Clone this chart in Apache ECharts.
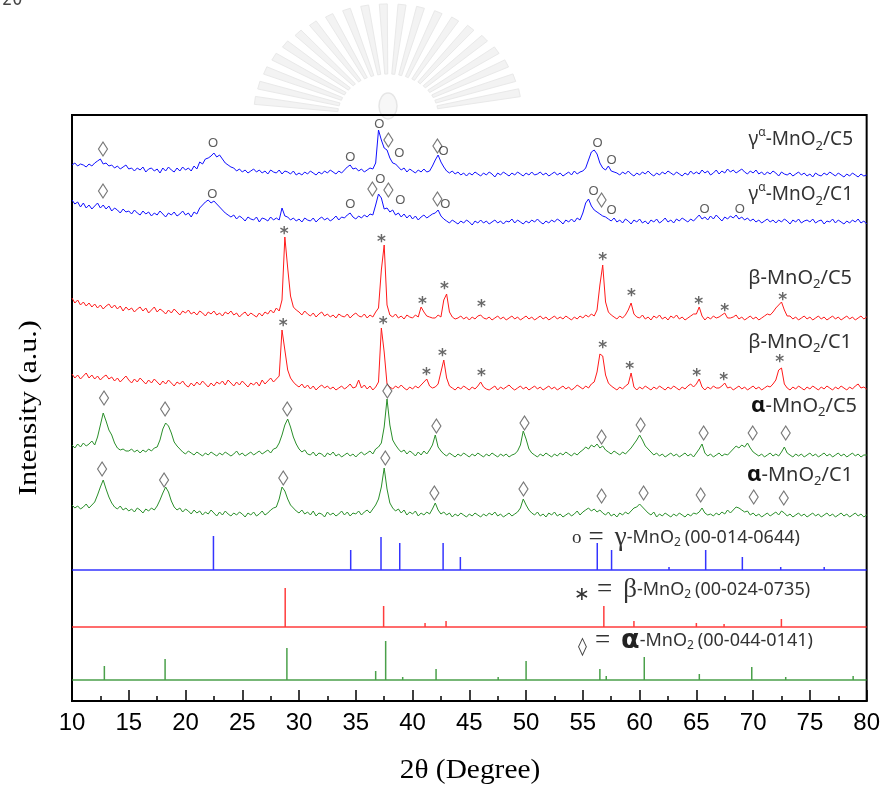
<!DOCTYPE html>
<html>
<head>
<meta charset="utf-8">
<script src="https://cdn.jsdelivr.net/npm/echarts/dist/echarts.min.js"></script>
<style>
  html, body { margin: 0; padding: 0; background: #fff; }
  #chart { width: 883px; height: 787px; }
</style>
</head>
<body>
<div id="chart"></div>
<script>
// ---------------- DATA ----------------
// 2θ grid of the measured patterns: 10° .. 80° every 0.25°
const twoThetaStart = 10;
const twoThetaStep = 0.25;

// Measured XRD intensities (a.u., relative to each pattern's own baseline)
const gammaC5 = [
 15,17,14,16, 15,13,16,14, 17,19,21,16, 17,14,15,12, 14,11,13,15,
 11,12,9,12, 10,13,8,11, 12,9,11,7, 12,9,13,10, 8,12,9,13,
 10,12,9,14, 11,18,16,21, 22,24,27,23, 25,21,17,15, 13,12,9,11,
 8,10,7,9, 11,8,10,7, 9,6,10,8, 7,10,6,9, 8,6,9,5,
 7,5,8,6, 9,7,5,8, 6,9,7,10, 8,6,9,7, 10,13,15,11,
 12,9,11,8, 10,12,11,17, 50,40,32,30, 22,17,16,13, 10,12,8,11,
 9,7,10,8, 11,8,9,14, 20,25,18,13, 9,7,9,6, 8,5,7,4,
 7,5,8,6, 4,7,5,8, 6,3,7,5, 8,6,4,7, 5,8,6,4,
 7,5,8,5, 6,8,5,7, 4,6,8,5, 7,4,6,8, 5,9,6,8,
 9,12,20,28, 30,26,17,12, 10,14,9,8, 7,5,8,6, 9,6,4,7,
 5,8,6,9, 6,4,7,5, 8,6,9,7, 5,8,6,4, 7,5,9,6,
 8,6,10,7, 9,5,7,10, 6,9,7,11, 8,10,7,9, 11,8,6,9,
 7,10,6,8, 5,8,6,9, 7,4,8,6, 5,7,4,6, 8,5,7,4,
 6,3,7,5, 4,7,5,8, 6,4,7,5, 3,6,4,7, 5,3,6,4,
 5
];
const gammaC1 = [
 25,21,23,18, 22,17,20,16, 19,22,17,20, 16,19,14,17, 15,12,16,13,
 14,11,15,12, 10,14,11,13, 9,12,10,14, 11,8,12,10, 13,9,11,14,
 10,12,8,13, 11,17,20,23, 25,22,24,21, 18,15,12,10, 8,10,6,9,
 7,4,8,6, 5,8,3,7, 6,4,8,5, 7,5,17,9, 8,5,7,4,
 6,3,7,5, 4,7,3,6, 8,5,7,4, 6,9,5,8, 7,10,12,8,
 6,9,7,10, 8,11,10,20, 31,27,16,17, 13,15,10,12, 8,11,7,10,
 6,9,5,8, 10,7,9,11, 12,15,9,6, 4,2,5,3, 1,4,2,5,
 3,0,4,2, 5,2,4,1, 3,5,2,4, 1,4,3,6, 2,5,3,1,
 4,2,5,3, 6,3,1,4, 2,5,3,6, 4,1,5,3, 6,3,7,5,
 12,22,26,19, 15,13,11,9, 8,6,4,7, 3,5,2,6, 4,1,5,3,
 6,2,4,1, 5,3,6,2, 4,7,3,5, 2,6,4,7, 5,3,6,4,
 7,10,6,8, 5,9,6,10, 7,4,8,6, 9,7,10,6, 8,5,7,4,
 6,3,5,2, 4,6,3,5, 2,5,3,6, 4,1,5,3, 6,2,4,5,
 3,6,2,4, 5,1,4,3, 6,2,5,3, 1,4,2,5, 3,6,2,4,
 1
];
const betaC5 = [
 22,17,20,15, 18,14,17,13, 16,12,15,11, 14,16,12,15, 11,14,9,13,
 10,12,8,11, 13,9,12,7, 10,13,8,11, 9,6,10,7, 11,8,5,9,
 7,10,6,8, 5,9,7,4, 8,6,9,5, 7,4,8,6, 9,5,7,3,
 6,8,4,7, 5,3,7,4, 8,6,10,7, 12,9,20,83, 52,24,13,10,
 8,5,9,6, 4,7,3,6, 8,4,6,3, 5,2,6,4, 3,6,2,5,
 7,4,3,6, 2,5,3,8, 12,50,75,15, 5,3,6,2, 4,1,5,3,
 2,5,3,13, 8,4,3,2, 2,5,3,20, 26,8,3,1, 2,4,1,3,
 0,3,1,4, 5,2,1,3, 0,2,4,1, 3,0,2,4, 1,3,0,2,
 4,1,3,0, 2,4,1,3, 0,2,4,1, 3,1,4,2, 0,3,1,4,
 2,5,3,6, 4,10,35,55, 18,8,5,3, 1,4,2,5, 10,17,6,3,
 2,5,1,3, 0,4,2,5, 1,3,0,4, 2,5,1,3, 0,2,4,6,
 6,13,4,0, 3,1,4,2, 3,5,7,2, 2,3,5,1, 3,0,2,4,
 1,3,0,2, 4,6,5,8, 12,15,18,10, 4,4,1,3, 0,2,4,1,
 3,0,2,4, 1,3,0,2, 4,1,3,0, 2,4,1,3, 0,2,4,1,
 3
];
const betaC1 = [
 16,12,15,11, 14,17,12,15, 11,14,10,13, 15,11,13,9, 12,8,11,14,
 10,7,11,8, 12,9,6,10, 7,11,8,5, 9,6,10,7, 4,8,6,9,
 5,3,7,4, 8,5,9,6, 3,7,4,8, 6,9,5,10, 7,4,8,5,
 9,6,3,7, 5,8,4,10, 6,9,12,8, 11,14,60,40, 20,12,8,5,
 3,6,2,5, 1,4,0,3, 5,2,4,1, 3,0,2,4, 1,3,6,2,
 3,10,2,5, 1,4,0,3, 8,62,38,6, 3,1,4,2, 5,2,0,3,
 1,4,2,5, 8,11,4,2, 3,6,18,30, 12,4,2,0, 3,1,4,2,
 0,3,1,4, 8,3,1,0, 2,4,0,3, 1,3,5,2, 0,2,4,1,
 3,0,2,4, 1,3,0,2, 4,1,3,0, 2,4,1,3, 0,2,5,3,
 1,4,2,6, 8,18,36,34, 15,7,4,2, 0,3,1,4, 6,17,3,0,
 3,1,4,2, 0,3,1,4, 2,0,3,1, 4,2,0,3, 1,4,6,3,
 6,11,3,0, 3,1,4,2, 2,4,7,2, 3,0,2,4, 1,3,0,2,
 4,1,3,0, 2,4,3,6, 10,20,22,6, 2,0,3,1, 4,2,0,3,
 1,4,2,0, 3,1,4,2, 0,3,1,4, 2,0,3,1, 4,6,2,3,
 1
];
const alphaC5 = [
 12,9,13,10, 14,11,13,16, 12,20,32,44, 36,27,22,14, 9,7,8,6,
 6,8,5,7, 4,7,5,8, 6,9,10,17, 28,34,31,24, 15,11,8,5,
 3,6,4,2, 5,3,1,4, 2,5,3,1, 4,2,5,3, 1,3,6,2,
 4,1,3,5, 2,4,6,3, 5,7,4,8, 9,14,22,32, 38,30,20,13,
 8,5,7,3, 2,5,1,4, 3,0,4,2, 5,1,3,0, 2,4,1,3,
 0,3,5,2, 4,6,3,8, 10,14,30,58, 32,17,12,8, 5,7,3,6,
 4,1,5,2, 6,3,7,12, 22,10,6,3, 1,4,2,0, 3,1,4,2,
 0,3,1,4, 2,0,3,1, 4,2,0,3, 1,3,0,2, 3,6,12,26,
 18,8,4,2, 0,3,1,4, 2,0,3,1, 4,2,5,3, 1,4,2,5,
 7,10,8,12, 10,13,9,11, 7,5,3,6, 4,2,5,3, 6,9,13,17,
 22,17,11,8, 5,2,4,1, 3,0,2,4, 1,3,0,2, 4,1,3,0,
 4,8,13,4, 1,3,0,2, 4,1,3,2, 5,8,11,9, 12,10,14,9,
 5,3,1,3, 0,2,4,1, 3,1,5,10, 4,2,0,3, 1,3,0,2,
 4,1,3,0, 2,4,1,3, 0,2,4,1, 3,0,2,4, 1,3,0,2,
 2
];
const alphaC1 = [
 12,9,11,8, 10,13,9,12, 15,22,30,37, 28,20,14,10, 8,11,7,9,
 6,8,5,9, 7,4,8,6, 9,7,11,17, 24,30,25,16, 10,7,9,5,
 8,6,3,7, 4,6,2,5, 3,7,4,1, 5,2,6,3, 1,4,2,5,
 3,0,4,2, 5,1,3,6, 2,4,7,9, 10,18,30,26, 18,12,9,6,
 4,7,3,5, 2,6,1,4, 3,0,5,2, 4,1,3,6, 2,5,1,4,
 3,6,2,5, 7,4,8,12, 18,30,49,28, 14,9,6,8, 4,7,2,5,
 3,6,1,4, 2,5,3,8, 14,7,3,5, 2,4,0,3, 1,4,2,0,
 3,1,4,2, 0,3,1,4, 2,5,1,3, 0,2,4,1, 3,5,9,18,
 12,7,4,2, 5,1,3,0, 4,2,5,1, 3,0,2,4, 1,3,6,2,
 5,7,9,6, 8,5,7,4, 2,5,1,3, 0,4,2,5, 3,6,9,10,
 13,10,7,4, 2,5,0,3, 1,4,2,0, 3,1,4,2, 0,3,1,4,
 3,5,9,4, 2,3,1,4, 2,5,3,7, 4,7,10,9, 7,5,6,2,
 4,1,3,0, 2,4,1,3, 5,2,6,4, 1,3,0,2, 4,1,3,0,
 2,4,1,3, 0,2,4,1, 3,0,2,4, 1,3,0,2, 4,1,3,0,
 2
];

// vertical stacking offsets of the measured patterns (a.u.)
const stackOffsets = [521, 476, 381, 311, 244, 184];

// Reference stick patterns (JCPDS cards): peak 2θ and relative intensity
const gammaRefPos = [22.46, 34.55, 37.22, 38.87, 42.69, 44.21, 56.27, 57.53, 62.59, 65.82, 69.05, 72.43, 76.26];
const gammaRefInt = [34, 20, 33, 27, 27, 13, 27, 20, 3, 20, 13, 3, 3];
const betaRefPos = [28.78, 37.45, 41.1, 42.95, 46.18, 56.85, 59.5, 65.0, 67.44, 72.49, 76.11, 78.55];
const betaRefInt = [39, 21, 4, 6, 2, 21, 6, 4, 3, 8, 2, 2];
const alphaRefPos = [12.85, 18.2, 25.76, 28.93, 36.75, 37.63, 39.13, 41.33, 42.07, 46.18, 47.54, 50.0, 56.5, 57.06, 60.41, 65.26, 68.32, 69.88, 72.87, 77.37, 78.81];
const alphaRefInt = [14, 21, 2, 32, 9, 39, 3, 2, 11, 1, 3, 19, 11, 4, 23, 6, 2, 13, 3, 2, 4];
const refOffsets = [131, 74, 21];

// Phase marks above peaks: [2θ, height above pattern baseline, phase]  d=α(◊) o=γ(o) s=β(*)
const gammaC5Marks = [[12.73,31,'d'],[22.43,37,'o'],[34.51,23,'o'],[37.07,56,'o'],[37.87,40,'d'],[38.84,27,'o'],[42.19,34,'d'],[42.72,29,'o'],[56.30,37,'o'],[57.53,20,'o']];
const gammaC1Marks = [[12.73,34,'d'],[22.35,31,'o'],[34.51,21,'o'],[36.46,36,'d'],[37.16,46,'o'],[37.87,35,'d'],[38.92,25,'o'],[42.19,26,'d'],[42.89,21,'o'],[55.94,34,'o'],[56.65,25,'d'],[57.53,15,'o'],[65.73,16,'o'],[68.82,16,'o']];
const betaC5Marks = [[28.69,89,'s'],[37.25,81,'s'],[40.86,19,'s'],[42.80,34,'s'],[46.07,16,'s'],[56.74,63,'s'],[59.29,27,'s'],[65.20,19,'s'],[67.50,12,'s'],[72.61,23,'s']];
const betaC1Marks = [[28.61,67,'s'],[37.42,69,'s'],[41.22,18,'s'],[42.63,37,'s'],[46.07,17,'s'],[56.74,45,'s'],[59.12,24,'s'],[65.03,17,'s'],[67.41,13,'s'],[72.35,31,'s']];
const alphaC5Marks = [[12.82,59,'d'],[18.20,48,'d'],[28.96,48,'d'],[37.78,66,'d'],[42.10,31,'d'],[49.86,34,'d'],[56.65,20,'d'],[60.09,32,'d'],[65.64,24,'d'],[69.96,24,'d'],[72.87,24,'d']];
const alphaC1Marks = [[12.65,48,'d'],[18.11,37,'d'],[28.61,39,'d'],[37.60,59,'d'],[41.92,24,'d'],[49.77,28,'d'],[56.65,21,'d'],[60.35,24,'d'],[65.38,22,'d'],[70.05,20,'d'],[72.70,19,'d']];

// axis
const xMin = 10, xMax = 80, xInterval = 5;
const yMax = 586;

// ---------------- BUILD ----------------
const BLUE = '#1010ff', RED = '#ff1a1a', GREEN = '#2a8f2a';
const patterns = [gammaC5, gammaC1, betaC5, betaC1, alphaC5, alphaC1];
const patternColors = [BLUE, BLUE, RED, RED, GREEN, GREEN];
const patternMarks = [gammaC5Marks, gammaC1Marks, betaC5Marks, betaC1Marks, alphaC5Marks, alphaC1Marks];

function traceData(vals, off) {
  return vals.map((v, i) => [twoThetaStart + i * twoThetaStep, v + off]);
}
function stickData(pos, ints, off) {
  const d = [[xMin, off]];
  pos.forEach((p, i) => { d.push([p, off], [p, off + ints[i]], [p, off]); });
  d.push([xMax, off]);
  return d;
}

const series = [];
patterns.forEach((vals, k) => {
  series.push({
    type: 'line', data: traceData(vals, stackOffsets[k]), showSymbol: false, silent: true,
    lineStyle: { color: patternColors[k], width: 1 }, z: 2
  });
});
[[gammaRefPos, gammaRefInt, BLUE], [betaRefPos, betaRefInt, RED], [alphaRefPos, alphaRefInt, GREEN]].forEach((r, k) => {
  series.push({
    type: 'line', data: stickData(r[0], r[1], refOffsets[k]), showSymbol: false, silent: true,
    lineStyle: { color: r[2], width: 1.5, opacity: 0.85 }, z: 2
  });
});

const diamondPts = [], circlePts = [], starPts = [];
patternMarks.forEach((marks, k) => {
  marks.forEach(m => {
    const pt = [m[0], m[1] + stackOffsets[k]];
    if (m[2] === 'd') diamondPts.push(pt);
    else if (m[2] === 'o') circlePts.push(pt);
    else starPts.push(pt);
  });
});
series.push({
  type: 'scatter', data: diamondPts, symbol: 'diamond', symbolSize: [9, 14], silent: true, z: 5,
  itemStyle: { color: 'rgba(0,0,0,0)', borderColor: '#555', borderWidth: 1.2 }
});
series.push({
  type: 'scatter', data: circlePts, symbol: 'circle', symbolSize: 1, silent: true, z: 5,
  itemStyle: { color: 'rgba(0,0,0,0)' },
  label: { show: true, position: 'inside', formatter: 'O', color: '#333', fontSize: 13, fontFamily: 'Liberation Sans' }
});
series.push({
  type: 'scatter', data: starPts, symbol: 'circle', symbolSize: 1, silent: true, z: 5,
  itemStyle: { color: 'rgba(0,0,0,0)' },
  label: { show: true, position: 'inside', formatter: '*', color: '#444', fontSize: 17, fontWeight: 'bold', fontFamily: 'DejaVu Sans', offset: [0, 4] }
});

// sample name labels
const labelFont = '"Noto Sans", "DejaVu Sans", sans-serif';
function sampleRich(size) {
  return {
    a: { fontSize: size, fontFamily: labelFont, fill: '#333', lineHeight: 26, verticalAlign: 'middle' },
    sup: { fontSize: 12, fontFamily: labelFont, fill: '#333', lineHeight: 26, verticalAlign: 'top' },
    sub: { fontSize: 13, fontFamily: labelFont, fill: '#333', lineHeight: 26, verticalAlign: 'bottom' },
    b: { fontSize: size + 2, fontFamily: labelFont, fill: '#111', fontWeight: 'bold', lineHeight: 26, verticalAlign: 'middle' }
  };
}
const sampleLabels = [
  ['{a|γ}{sup|α}{a|-MnO}{sub|2}{a|/C5}', 853, 140, 19],
  ['{a|γ}{sup|α}{a|-MnO}{sub|2}{a|/C1}', 853, 195, 19],
  ['{a|β-MnO}{sub|2}{a|/C5}', 852, 278, 20],
  ['{a|β-MnO}{sub|2}{a|/C1}', 852, 342, 20],
  ['{b|α}{a|-MnO}{sub|2}{a|/C5}', 857, 406, 20],
  ['{b|α}{a|-MnO}{sub|2}{a|/C1}', 853, 475, 20]
];
const graphics = [];

// faint watermark emblem behind the top of the plot
const wmRays = [12, 20, 28, 36, 44, 52, 60, 68, 76, 84, 92, 100, 108, 116, 124, 132, 140, 148, 156, 164, 172];
wmRays.forEach(a => {
  const t = a * Math.PI / 180, c = Math.cos(t), s = Math.sin(t);
  const r0 = 42, r1 = 112, w0 = 1.5, w1 = 4;
  const ex = 1.2;
  graphics.push({
    type: 'polygon', silent: true, z: -10,
    shape: { points: [
      [388 + ex * c * r0 - s * w0, 116 - s * r0 - c * w0],
      [388 + ex * c * r1 - s * w1, 116 - s * r1 - c * w1],
      [388 + ex * c * r1 + s * w1, 116 - s * r1 + c * w1],
      [388 + ex * c * r0 + s * w0, 116 - s * r0 + c * w0]
    ] },
    style: { fill: '#f3f3f3', stroke: '#e9e9e9', lineWidth: 1 }
  });
});
graphics.push({
  type: 'ellipse', silent: true, z: -10,
  shape: { cx: 388, cy: 106, rx: 9, ry: 13 },
  style: { fill: '#f7f7f7', stroke: '#e6e6e6', lineWidth: 1.5 }
});

sampleLabels.forEach(s => graphics.push({
  type: 'text', x: s[1], y: s[2], z: 10, silent: true,
  style: { text: s[0], rich: sampleRich(s[3]), align: 'right', verticalAlign: 'middle' }
}));

// phase legend texts
function legendRich() {
  return {
    s: { fontSize: 19, fontFamily: '"Liberation Serif", serif', fill: '#333', lineHeight: 30, verticalAlign: 'middle', padding: [0, 7, 0, 0] },
    st: { fontSize: 19, fontFamily: '"DejaVu Sans", sans-serif', fill: '#333', lineHeight: 30, verticalAlign: 'bottom', padding: [0, 7, 0, 2] },
    dm: { fontSize: 18, fontFamily: '"DejaVu Sans", sans-serif', fill: '#444', lineHeight: 30, verticalAlign: 'bottom', padding: [0, 8, 0, 0] },
    eq: { fontSize: 27, fontFamily: '"Liberation Serif", serif', fill: '#333', lineHeight: 30, verticalAlign: 'middle', padding: [0, 11, 0, 0] },
    g: { fontSize: 27, fontFamily: '"Liberation Serif", serif', fill: '#333', lineHeight: 30, verticalAlign: 'middle' },
    gb: { fontSize: 27, fontFamily: '"DejaVu Sans", sans-serif', fill: '#222', fontWeight: 'bold', lineHeight: 30, verticalAlign: 'middle' },
    t: { fontSize: 18, fontFamily: labelFont, fill: '#333', lineHeight: 30, verticalAlign: 'middle' },
    sub: { fontSize: 12, fontFamily: labelFont, fill: '#333', lineHeight: 30, verticalAlign: 'bottom', padding: [0, 4, 4, 0] }
  };
}
const legendLines = [
  ['{s|o}{eq|=}{g|γ}{t|-MnO}{sub|2}{t|(00-014-0644)}', 572, 538],
  ['{st|∗}{eq|=}{g|β}{t|-MnO}{sub|2}{t|(00-024-0735)}', 572, 590],
  ['{dm|◊}{eq|=}{gb|α}{t|-MnO}{sub|2}{t|(00-044-0141)}', 578, 641]
];
legendLines.forEach(l => graphics.push({
  type: 'text', x: l[1], y: l[2], z: 10, silent: true,
  style: { text: l[0], rich: legendRich(), align: 'left', verticalAlign: 'middle' }
}));

// axis titles
graphics.push({
  type: 'text', x: 29, y: 408, rotation: Math.PI / 2, scaleX: 1.15, silent: true,
  style: { text: 'Intensity (a.u.)', font: '26px "Liberation Serif", serif', fill: '#000', align: 'center', verticalAlign: 'middle' }
});
graphics.push({
  type: 'text', x: 470, y: 771, scaleX: 1.05, silent: true,
  style: { text: '2θ (Degree)', font: '28px "Liberation Serif", serif', fill: '#000', align: 'center', verticalAlign: 'middle' }
});
// page number fragment at the top-left corner
graphics.push({
  type: 'text', x: 2, y: -8, silent: true,
  style: { text: '20', font: '17px "DejaVu Sans Mono", monospace', fill: '#444', align: 'left', verticalAlign: 'top' }
});

const chart = echarts.init(document.getElementById('chart'), null, { renderer: 'canvas' });
chart.setOption({
  animation: false,
  backgroundColor: '#fff',
  grid: { left: 72, right: 15, top: 115, bottom: 86, show: true, borderColor: '#000', borderWidth: 2, backgroundColor: 'transparent' },
  xAxis: {
    type: 'value', min: xMin, max: xMax, interval: xInterval,
    axisLine: { show: true, lineStyle: { color: '#000', width: 2 } },
    axisTick: { show: true, inside: true, length: 11, lineStyle: { color: '#000', width: 1.5 } },
    minorTick: { show: true, splitNumber: 2, length: 5, lineStyle: { color: '#000', width: 1.5 } },
    splitLine: { show: false },
    axisLabel: { color: '#000', fontSize: 24, fontFamily: '"Liberation Sans Narrow", "Arial Narrow", "Liberation Sans", sans-serif', margin: 10 }
  },
  yAxis: { type: 'value', min: 0, max: yMax, show: false, splitLine: { show: false } },
  series: series,
  graphic: graphics
});
</script>
</body>
</html>
